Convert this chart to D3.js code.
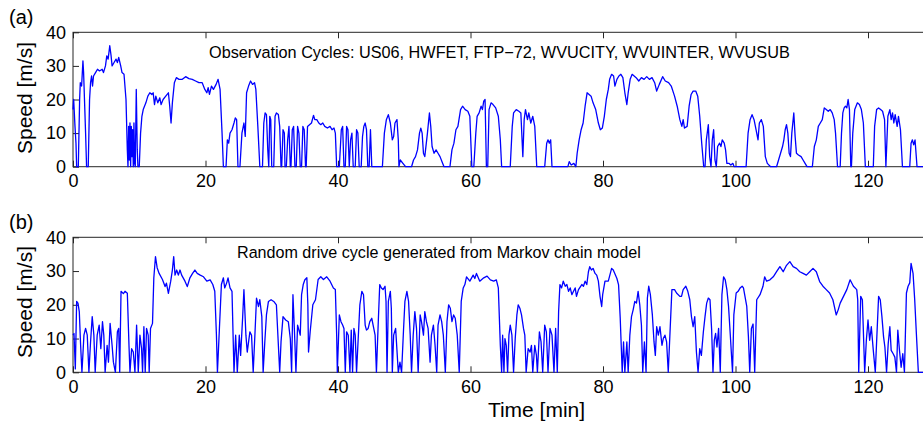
<!DOCTYPE html>
<html>
<head>
<meta charset="utf-8">
<script src="https://cdn.jsdelivr.net/npm/d3@7"></script>
<style>
  html, body { margin: 0; padding: 0; background: #fff; }
  svg { display: block; font-family: "Liberation Sans", Arial, Helvetica, sans-serif; }
</style>
</head>
<body>
<svg id="chart" width="923" height="421"></svg>
<script>
// ---------------- DATA ----------------
const xTicks = [0, 20, 40, 60, 80, 100, 120];
const yTicks = [0, 10, 20, 30, 40];
const panelLabels = ["(a)", "(b)"];
const panelNotes = [
  "Observation Cycles: US06, HWFET, FTP\u221272, WVUCITY, WVUINTER, WVUSUB",
  "Random drive cycle generated from Markov chain model"
];
const yLabel = "Speed [m/s]";
const xLabel = "Time [min]";

// (a) observed cycles: [time (min), speed (m/s)]
const observedCycle = [
[0,17],[0.1,20],[0.3,12],[0.45,7],[0.55,0],[0.8,0],[1.0,20],[1.1,25],[1.3,24],[1.5,31.5],[1.6,28],[1.9,10],[2.05,0],[2.3,0],[2.5,20],[2.65,25],[2.8,27],[2.95,24],[3.1,27],[3.4,28],[3.7,29],[4.0,28.5],[4.4,29],[4.6,28],[4.9,30],[5.1,33],[5.3,32],[5.55,36],[5.75,33],[5.9,30],[6.2,31],[6.5,32],[6.7,31],[6.9,32.5],[7.2,30],[7.4,28],[7.7,27.5],[8.0,20],[8.2,5],[8.3,0],
[8.4,12],[8.5,2],[8.6,13],[8.7,0],[8.8,12],[8.9,3],[9.0,11],[9.1,0],[9.2,13],[9.3,1],[9.4,0],[9.55,23],[9.7,5],[9.8,0],[10.0,0],
[10.2,10],[10.4,15],[10.6,17],[11.0,19],[11.3,21],[11.6,22],[11.9,21.5],[12.1,22],[12.3,18.5],[12.5,21],[12.8,19],[13.1,20.5],[13.3,18.5],[13.6,20],[14.0,21],[14.4,22],[14.6,18],[14.8,13],[15.0,19],[15.3,25],[15.6,26.5],[16.0,26],[16.5,26],[17.0,26.8],[17.5,26.2],[18.0,26],[18.5,25.5],[19.0,25],[19.5,25],[19.9,23],[20.2,22],[20.4,23.5],[20.6,21.5],[20.9,24],[21.2,23],[21.6,24.5],[21.9,26],[22.2,23],[22.5,10],[22.7,0],
[23.1,0],[23.3,8],[23.5,7],[23.7,10],[24.0,11],[24.3,13],[24.5,14.5],[24.7,14],[24.9,0],
[25.2,0],[25.5,10],[25.8,13],[26.0,9],[26.2,22],[26.5,24],[26.8,25.5],[27.1,24.5],[27.4,25],[27.6,23],[27.9,12],[28.2,0],
[28.6,0],[28.8,13],[29.0,16],[29.2,15.5],[29.4,5],[29.55,0],[29.7,15],[29.85,14],[30.0,0],[30.3,0],[30.5,15],[30.7,16],[31.0,15.5],[31.2,12],[31.4,0],[31.5,0],[31.7,11],[31.9,10],[32.0,0],[32.2,0],[32.4,8],[32.6,12],[32.8,0],[32.9,0],[33.1,11],[33.3,12],[33.5,0],[33.7,0],[33.9,12],[34.1,10],[34.3,0],[34.5,0],[34.7,12],[34.9,11],[35.1,0],[35.2,0],[35.4,12],[35.7,12.5],[36.0,13],[36.3,15.3],[36.5,14],[36.8,14],[37.1,13],[37.4,12.5],[37.7,13],[38.0,12],[38.4,11.5],[38.8,12],[39.1,11],[39.4,11.5],[39.6,10],[39.8,0],
[40.2,0],[40.5,11],[40.7,12],[40.9,0],[41.1,0],[41.3,12],[41.5,11],[41.7,0],[41.9,8],[42.1,10],[42.3,0],[42.6,0],[42.8,11],[43.0,10],[43.2,0],[43.5,0],[43.7,9],[43.9,12],[44.1,13],[44.3,11],[44.5,0],[44.7,0],[44.9,11],[45.1,0],
[46.7,0],[47.0,10],[47.3,14],[47.6,15.5],[47.9,13],[48.2,8],[48.4,9],[48.6,13],[48.9,14],[49.1,8],[49.2,0],[49.4,2],[49.8,1],[50.2,0],[51.1,0],
[51.4,2],[51.7,3],[52.0,5],[52.3,10],[52.5,11.5],[52.7,10],[52.9,4],[53.1,3],[53.5,10],[53.8,16],[54.0,12],[54.2,6],[54.5,4],[54.8,5],[55.1,4],[55.4,3],[55.7,1.5],[56.0,0],[56.9,0],
[57.2,5],[57.5,7],[57.8,11],[58.1,12],[58.5,17],[58.8,18],[59.2,17],[59.6,16.5],[59.9,15],[60.2,0],
[60.5,0],[60.8,10],[61.0,15],[61.3,16],[61.6,18],[61.8,17],[62.0,19.5],[62.2,20],[62.4,0],[62.6,0],[62.8,17],[63.1,19],[63.4,18.5],[63.8,17.5],[64.2,15],[64.5,8],[64.7,0],
[66.0,0],[66.3,12],[66.5,16],[66.9,17],[67.3,16.5],[67.6,16],[67.9,3],[68.1,14],[68.3,17],[68.6,14],[68.8,16],[69.1,13],[69.4,15],[69.7,12],[70.0,0],
[71.2,0],[71.5,7],[71.7,8],[71.9,7],[72.1,8],[72.3,0],
[74.7,0],[74.9,1.5],[75.2,0.5],[75.6,1],[75.9,0],
[76.1,4],[76.4,8],[76.7,11],[77.0,13],[77.3,18],[77.6,22],[77.9,21.5],[78.2,21],[78.5,19],[78.9,17],[79.3,13],[79.6,11],[79.9,11.5],[80.2,15],[80.5,20],[80.8,23],[81.0,26],[81.3,27.5],[81.6,27],[81.8,24],[82.1,26],[82.4,27],[82.7,27.5],[83.0,26.5],[83.3,22],[83.6,18.5],[83.8,22],[84.1,26],[84.4,27.5],[84.7,27],
[85.0,26.5],[85.4,25.5],[85.8,26.5],[86.2,26],[86.6,26.8],[87.0,26],[87.4,26.5],[87.8,25],[88.1,22.5],[88.5,24.5],[89.0,26.8],[89.4,25.5],[89.9,25],[90.3,24],[90.8,21],[91.2,18],[91.6,14],[91.9,12],[92.1,14],[92.3,11.5],[92.7,12],[93.0,18],[93.3,21.5],[93.6,22.5],[94.0,22.5],[94.3,21],[94.6,15],[94.9,7],[95.2,0],
[95.4,0],[95.6,8],[95.9,12.5],[96.1,3],[96.3,0],[96.5,8],[96.7,11],[96.9,2],[97.1,0],[97.3,6],[97.6,7],[97.8,6],[98.0,8],[98.3,7],[98.5,5],[98.7,1],[99.0,1],[99.3,0.5],[99.6,1],[99.8,0],
[101.6,0],[101.9,10],[102.2,14],[102.5,15.5],[102.8,14],[103.1,11],[103.4,8],[103.6,13],[103.9,14],[104.2,12],[104.5,3],[104.8,1],[105.3,0],
[106.2,0],[106.5,2],[106.8,4],[107.1,6],[107.3,8],[107.5,11],[107.7,12.5],[107.9,10],[108.1,4],[108.3,3],[108.5,10],[108.8,16],[109.0,9],[109.2,4],[109.5,3.5],[109.9,3],[110.2,2],[110.5,1],[110.8,0],
[111.6,0],[111.9,6],[112.2,8],[112.5,12],[112.8,13],[113.1,14],[113.4,17.5],[113.7,17],[114.0,16.5],[114.3,17],[114.6,16],[114.9,14],[115.1,10],[115.4,0],
[115.8,0],[116.0,10],[116.2,16],[116.4,17.5],[116.6,18],[116.8,17.5],[117.0,20],[117.2,17],[117.4,0],[117.5,0],[117.7,10],[118.0,17],[118.4,19],[118.7,18.5],[119.0,17],[119.3,13],[119.6,0],
[120.8,0],[121.0,12],[121.3,17],[121.6,17.5],[121.9,17],[122.2,16.5],[122.5,14],[122.7,0],[122.8,5],[123.0,15],[123.3,17],[123.5,14],[123.7,16],[123.9,13],[124.1,15.5],[124.4,12],[124.6,15],[124.9,11],[125.2,0],
[126.3,0],[126.5,7],[126.7,8],[126.9,6.5],[127.1,8],[127.4,0],[130,0]
];

// (b) Markov-chain generated cycle: [time (min), speed (m/s)]
const markovCycle = [
[0,11],[0.15,11.5],[0.35,1],[0.55,21],[0.75,20.5],[0.95,18],[1.15,8],[1.35,0],[1.65,11],[1.9,13],[2.15,11],[2.4,0],[2.65,9],[2.9,16.5],[3.15,11],[3.35,0],[3.65,11],[3.95,14],[4.2,7],[4.45,15],[4.65,11],[4.85,0],[5.15,8],[5.35,3],[5.6,14.5],[5.9,8],[6.1,3],[6.4,0],[6.7,12],[6.9,13],[7.05,0],[7.25,24],[7.6,23.3],[7.85,24],[8.2,23.4],[8.45,8],[8.6,0],[8.85,7],[9.1,6],[9.35,0],[9.6,14],[9.85,0],[10.1,11],[10.35,7],[10.5,0],[10.7,13.5],[10.9,0],[11.1,13],[11.35,11],[11.5,0],[11.7,13],[12.0,14.5],
[12.2,28],[12.45,34.3],[12.7,31],[13.0,29.3],[13.5,27.5],[13.9,25.4],[14.1,26.4],[14.4,23.4],[14.75,27],[15.0,30.3],[15.2,34.3],[15.4,28.8],[15.65,30.3],[15.9,28.8],[16.15,30.3],[16.4,28.8],[16.9,27],[17.25,25.4],[17.65,28],[18.05,29.3],[18.4,30.3],[18.75,29.3],[19.2,28.8],[19.7,28.3],[20.2,27],[20.7,27.4],[21.1,26],[21.4,24],[21.65,11],[21.8,0],
[22.1,13],[22.4,26],[22.7,28],[22.9,25],[23.2,26.5],[23.4,28],[23.7,25],[24.0,24],[24.3,0],[24.55,11],[24.8,0],[25.1,11],[25.3,5],[25.6,16],[25.8,24.5],[26.1,11],[26.3,6],[26.7,12],[26.95,11],[27.2,0],[27.5,13],[27.7,22],[28.0,19.5],[28.2,21.5],[28.5,16.5],[28.7,0],[28.95,9],[29.2,17],[29.5,21],[29.9,21.5],[30.3,21],[30.7,20],[31.0,8],[31.2,0],[31.4,9],[31.7,16.5],[32.1,15.5],[32.5,15],[32.8,10],[33.0,0],[33.2,23],[33.45,11],[33.65,0],[33.9,14],[34.3,11],
[34.5,23],[34.75,26],[35.0,27.4],[35.3,28],[35.45,20],[35.55,6],[35.8,12],[36.2,20],[36.6,21.5],[37.0,27.5],[37.4,28.3],[37.8,27.5],[38.3,28.3],[38.8,27],[39.3,25],[39.6,24.5],[39.8,11],[39.9,0],[40.2,17],[40.45,15],[40.7,14],[40.9,13],[41.1,0],[41.3,12],[41.55,11],[41.8,0],[42.0,12.5],[42.2,0],[42.4,13],[42.6,11],[42.8,0],
[43.1,12],[43.3,20],[43.6,24],[43.85,23],[44.1,14],[44.3,12.5],[44.55,13],[44.8,15],[45.1,16],[45.3,14],[45.6,11],[45.8,0],[46.1,16],[46.3,26],[46.55,25],[46.8,24.5],[47.1,25.5],[47.25,21],[47.4,0],[47.6,21],[47.9,24],[48.05,19],[48.2,0],[48.4,11],[48.7,13],[49.1,0],[49.35,3],[49.6,0],[49.9,13],[50.1,21],[50.4,24],[50.65,21],[50.9,11],[51.1,0],[51.35,11],[51.6,18],[51.85,13],[52.1,0],[52.4,17],[52.6,15],[52.9,11],[53.1,18],[53.35,15],[53.6,13],[53.9,3],[54.1,11],[54.4,14],[54.65,8],[54.9,0],[55.1,14],[55.4,17],[55.65,15],[55.9,11],[56.2,0],[56.45,15],[56.7,20],[56.95,19],[57.2,15],[57.45,17],[57.7,16],[58.0,11],[58.3,0],
[58.6,21],[58.9,25],[59.15,26],[59.4,28.3],[59.9,27],[60.4,28.8],[60.65,27.8],[60.9,29.3],[61.4,27],[62.0,28],[62.5,28.5],[63.0,27.4],[63.5,27],[63.9,27.4],[64.2,25],[64.5,8],[64.7,0],
[64.85,11],[65.05,0],[65.2,10],[65.4,8],[65.6,0],[65.8,11],[66.0,14],[66.25,11],[66.5,0],[66.75,10],[67.0,17],[67.2,20],[67.45,19],[67.7,17],[68.0,13],[68.2,11],[68.4,0],[68.7,7],[69.0,6],[69.2,8],[69.4,0],[69.7,8],[69.95,5],[70.1,0],[70.4,12],[70.65,9],[70.9,0],[71.2,14],[71.45,12],[71.7,0],[72.0,13],[72.3,11],[72.6,0],[72.85,13],[73.1,0],
[73.3,18],[73.5,26],[73.75,25],[74.0,27],[74.3,25.5],[74.55,26],[74.8,24],[75.05,25],[75.3,23],[75.55,24],[75.8,25],[76.0,22.5],[76.3,24.5],[76.8,26],[77.05,25.5],[77.3,27],[77.55,26],[77.8,29.8],[78.0,31.3],[78.25,30.3],[78.5,30.8],[78.8,29.3],[79.05,28.8],[79.3,27],[79.55,22.5],[79.8,19.5],[79.95,23],[80.3,27],[80.8,27],[81.3,30.8],[81.55,30.3],[82.1,27.8],[82.35,25.9],[82.6,16],[82.75,8],[82.9,0],
[83.1,9],[83.3,0],[83.6,9],[83.8,0],[84.05,11],[84.3,16.5],[84.55,18.5],[84.8,21],[85.05,20.5],[85.3,24],[85.55,20],[85.8,14],[86.0,0],[86.25,9],[86.5,0],[86.7,22],[86.9,25.5],[87.15,23],[87.45,17],[87.7,9],[87.9,5],[88.1,13.5],[88.35,11],[88.6,13.5],[88.9,8],[89.1,10],[89.35,11],[89.6,9],[89.85,0],
[90.4,24.5],[90.8,24.5],[91.1,23.5],[91.6,22.5],[91.85,22.5],[92.1,24.5],[92.5,25.5],[92.8,24],[93.1,21.5],[93.35,16.5],[93.6,13.5],[93.85,16.5],[94.1,6],[94.35,0],[94.6,7],[94.85,5],[95.15,12],[95.4,16.5],[95.65,20.5],[95.9,22],[96.15,21.5],[96.4,12.5],[96.6,0],[96.8,9.5],[97.0,11.5],[97.2,7.5],[97.45,13],[97.7,0],
[97.95,23],[98.2,28.3],[98.45,27.4],[98.7,24.5],[98.95,19.5],[99.2,11.5],[99.55,0],[99.75,17],[100.1,23.5],[100.4,24],[100.7,25],[101.0,25.5],[101.2,25],[101.7,19.5],[101.95,10.5],[102.15,0],[102.4,13],[102.65,14.3],[102.9,0],
[103.2,21.5],[103.7,23],[104.15,25.5],[104.4,28.3],[104.7,27],[105.2,27.4],[105.7,28.3],[106.2,29.8],[106.7,31.3],[107.2,29.8],[107.7,31.7],[108.2,32.8],[108.7,31.3],[109.2,30.8],[109.7,29.8],[110.2,29.3],[110.7,28.8],[111.2,29.8],[111.7,30.8],[112.2,29.8],[112.7,26.9],[113.2,25.5],[113.7,24.5],[114.2,23.5],[114.7,21.5],[115.2,17],[115.5,18.5],[115.8,20.5],[116.3,22.5],[116.8,24.5],[117.3,27.4],[117.8,25.5],[118.3,24.5],[118.45,21.5],[118.6,0],
[118.9,22.5],[119.15,21.5],[119.5,0],[119.75,9.5],[120.0,15.5],[120.25,9.5],[120.5,13.5],[120.8,6.5],[121.1,0],[121.6,22.5],[121.85,21.5],[122.1,16.5],[122.35,10.5],[122.55,7.5],[122.8,0],[123.05,8.5],[123.3,13.5],[123.5,6.5],[123.8,5.5],[124.05,4.5],[124.3,0],[124.5,12.5],[124.75,6.5],[125.0,1.5],[125.25,5.5],[125.5,0],
[125.8,23.5],[126.05,25.5],[126.3,26.5],[126.5,32.3],[126.8,29.3],[127.05,21.5],[127.3,11.5],[127.6,0],[130,0]
];

// ---------------- DRAW ----------------
const svg = d3.select("#chart");
const W = 923;
const left = 73, pxPerMin = 6.625;
const xMax = 130;
const x = d3.scaleLinear().domain([0, xMax]).range([left, left + xMax * pxPerMin]);

const panels = [
  { top: 32.3, bottom: 166.7, data: observedCycle, label: panelLabels[0], note: panelNotes[0],
    noteX: 209, noteY: 51.7, labelY: 24, ylabY: 98 },
  { top: 237.3, bottom: 372.3, data: markovCycle, label: panelLabels[1], note: panelNotes[1],
    noteX: 237, noteY: 251.7, labelY: 229, ylabY: 302 }
];
const noteWidths = [581, 404];

panels.forEach((p, i) => {
  const y = d3.scaleLinear().domain([0, 40]).range([p.bottom, p.top]);
  const g = svg.append("g");

  // frame
  g.append("rect")
    .attr("x", left).attr("y", p.top)
    .attr("width", x(xMax) - left).attr("height", p.bottom - p.top)
    .attr("fill", "none").attr("stroke", "#262626").attr("stroke-width", 1);

  // bottom axis (inward ticks)
  const ax = g.append("g").attr("transform", `translate(0,${p.bottom})`)
    .call(d3.axisBottom(x).tickValues(xTicks).tickSize(-6).tickPadding(8).tickFormat(d3.format("d")));
  // top axis ticks (inward)
  const axTop = g.append("g").attr("transform", `translate(0,${p.top})`)
    .call(d3.axisTop(x).tickValues(xTicks).tickSize(-6).tickFormat(""));
  // left axis
  const ay = g.append("g").attr("transform", `translate(${left},0)`)
    .call(d3.axisLeft(y).tickValues(yTicks).tickSize(-6).tickPadding(7).tickFormat(d3.format("d")));

  [ax, axTop, ay].forEach(a => {
    a.select(".domain").remove();
    a.selectAll("line").attr("stroke", "#262626");
    a.selectAll("text").attr("fill", "#000").style("font-size", "18px")
      .style("font-family", '"Liberation Sans", Arial, sans-serif');
  });

  // series line
  const line = d3.line().x(d => x(d[0])).y(d => y(d[1]));
  g.append("path").datum(p.data)
    .attr("d", line)
    .attr("fill", "none")
    .attr("stroke", "#0000ff")
    .attr("stroke-width", 1.3)
    .attr("stroke-linejoin", "round");

  // annotation text (fit to measured width)
  const note = g.append("text")
    .attr("x", p.noteX).attr("y", p.noteY)
    .attr("dy", "0.36em")
    .style("font-size", "16px")
    .attr("fill", "#000")
    .text(p.note);
  const len = note.node().getComputedTextLength();
  if (len > 0) note.style("font-size", (16 * noteWidths[i] / len).toFixed(2) + "px");

  // panel label
  svg.append("text").attr("x", 9).attr("y", p.labelY)
    .style("font-size", "20px").attr("fill", "#000").text(p.label);

  // y label
  svg.append("text")
    .attr("transform", `translate(25,${p.ylabY}) rotate(-90)`)
    .attr("text-anchor", "middle").attr("dy", "0.35em")
    .style("font-size", "21px").attr("fill", "#000")
    .text(yLabel);
});

// x label
svg.append("text")
  .attr("x", 536.5).attr("y", 416.5)
  .attr("text-anchor", "middle")
  .style("font-size", "21px").attr("fill", "#000")
  .text(xLabel);
</script>
</body>
</html>
